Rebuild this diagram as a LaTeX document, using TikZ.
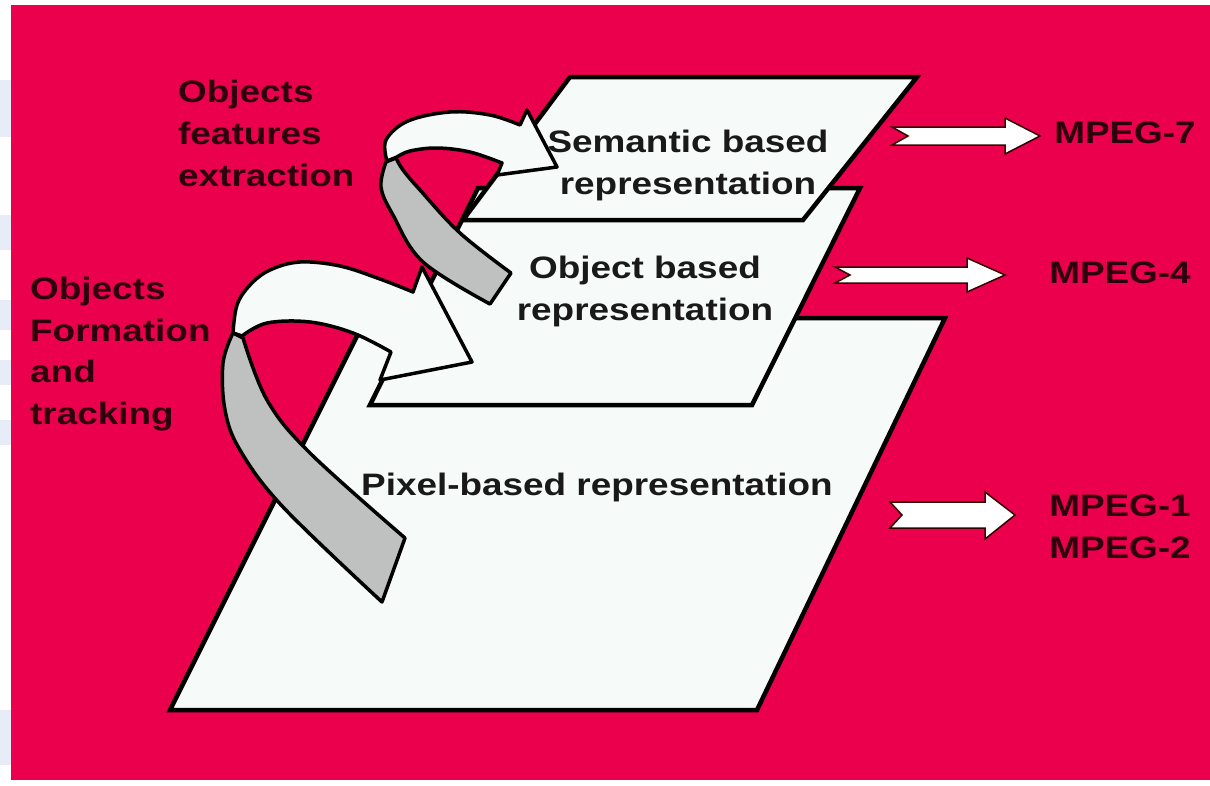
\documentclass[tikz,border=0pt]{standalone}
\usepackage{fontspec}
\newfontfamily\lbl{Liberation Sans}[FakeStretch=1.19]
\definecolor{slidered}{RGB}{234,0,76}
\definecolor{planefill}{RGB}{246,250,249}
\definecolor{ribgray}{RGB}{190,193,192}
\definecolor{darklbl}{RGB}{45,0,12}
\definecolor{planetext}{RGB}{25,25,25}
\definecolor{stripblue}{RGB}{230,236,248}
\tikzset{
  plane/.style={draw=black, line width=4.5pt, line join=miter, fill=planefill},
  ribwhite/.style={draw=black, line width=3.5pt, line join=round, fill=planefill},
  ribgrey/.style={draw=black, line width=3.5pt, line join=round, fill=ribgray},
  barrow/.style={draw=black!80!red, line width=1.5pt, fill=white},
  redlbl/.style={font=\lbl\bfseries\fontsize{31}{42}\selectfont, text=darklbl, align=left, inner sep=0pt},
  mpeglbl/.style={font=\lbl\bfseries\fontsize{31}{42}\selectfont, text=darklbl, align=center, inner sep=0pt},
  planelbl/.style={font=\lbl\bfseries\fontsize{31}{42}\selectfont, text=planetext, align=center, inner sep=0pt}
}
\begin{document}
\begin{tikzpicture}[x=1pt,y=-1pt]
\useasboundingbox (0,0) rectangle (1210,785);
\fill[white] (0,0) rectangle (1210,785);
% left strip patches
\foreach \a/\b in {80/137,215/250,300/330,360/385,420/445,710/765}
  \fill[stripblue] (0,\a) rectangle (11,\b);
\fill[slidered] (11,5) rectangle (1210,780);

% planes
\draw[plane] (170,710) -- (757,710) -- (945,318) -- (366,318) -- cycle;
\draw[plane] (370,405) -- (752,405) -- (860,188) -- (478,188) -- cycle;
\draw[plane] (463,220) -- (803,220) -- (917,77) -- (570,77) -- cycle;

% lower ribbon (objects formation and tracking)
\draw[ribwhite] plot[smooth,tension=0.6] coordinates {(233,333) (237,305) (250,285) (270,270) (300,262) (340,266) (380,279) (413,292)}
  -- (422,267) -- (472,362) -- (380,380) -- (391,352)
  -- plot[smooth,tension=0.6] coordinates {(391,352) (353,333) (310,322) (267,323) (242,336)} -- cycle;
\draw[ribgrey] plot[smooth,tension=0.6] coordinates {(233,333) (223,363) (225,410) (240,450) (283,507) (382,602)}
  -- (405,538)
  -- plot[smooth,tension=0.6] coordinates {(405,538) (310,453) (267,400) (243,338)} -- cycle;

% upper ribbon (objects features extraction)
\draw[ribwhite] plot[smooth,tension=0.6] coordinates {(387,161) (386,140) (408,121) (450,112) (490,115) (520,125)}
  -- (527,110) -- (557,167) -- (497,175) -- (502,163)
  -- plot[smooth,tension=0.6] coordinates {(502,163) (470,152) (437,148) (410,151) (397,157)} -- cycle;
\draw[ribgrey] plot[smooth,tension=0.6] coordinates {(386,162) (381,187) (393,215) (423,262) (490,304)}
  -- (511,273)
  -- plot[smooth,tension=0.6] coordinates {(511,273) (460,233) (420,190) (403,170) (396,158)} -- cycle;

% plane labels
\node[planelbl] (sem) at (688,165) {Semantic based\\representation};
\node[planelbl] (obj) at (645,291) {Object based\\representation};
\node[planelbl] (pix) at (597,487) {Pixel-based representation};

% side labels
\node[redlbl, anchor=west] (ofe) at (178,133) {Objects\\features\\extraction};
\node[redlbl, anchor=west, font=\lbl\bfseries\fontsize{31}{41.5}\selectfont] (oft) at (30,354) {Objects\\Formation\\and\\tracking};

% MPEG labels
\node[mpeglbl] (m7) at (1125,133) {MPEG-7};
\node[mpeglbl] (m4) at (1120,273) {MPEG-4};
\node[mpeglbl] (m12) at (1120,527) {MPEG-1\\MPEG-2};

% block arrows
\draw[barrow] (892,127) -- (1005,127) -- (1005,118) -- (1040,136) -- (1005,154) -- (1005,145) -- (892,145) -- (908,136) -- cycle;
\draw[barrow] (835,267) -- (967,267) -- (967,258) -- (1005,275) -- (967,292) -- (967,283) -- (835,283) -- (850,275) -- cycle;
\draw[barrow] (890,502) -- (985,502) -- (985,492) -- (1015,515) -- (985,539) -- (985,528) -- (890,528) -- (902,515) -- cycle;
\end{tikzpicture}
\end{document}
